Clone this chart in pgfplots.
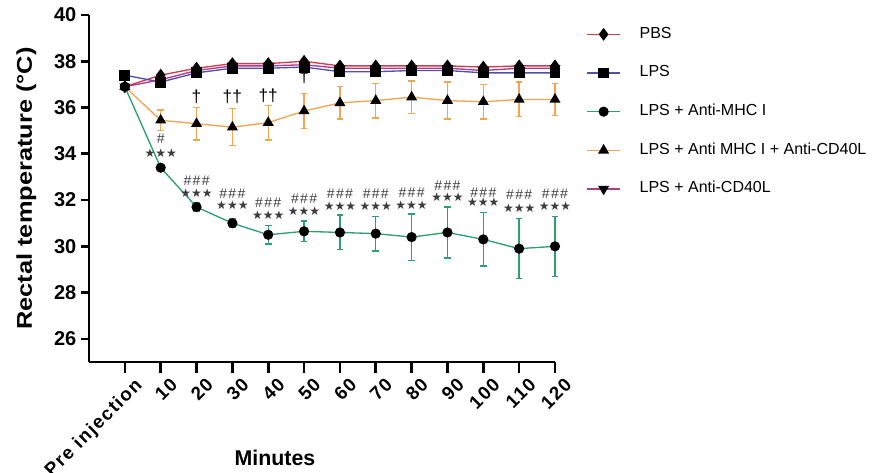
\documentclass[border=0pt]{standalone}
\usepackage{pgfplots}
\pgfplotsset{compat=1.18}
\usepackage{fontspec}
\setmainfont{Liberation Sans}
\newfontfamily\dejavu{DejaVu Sans}
\newfontfamily\spacedbold[LetterSpace=8]{Liberation Sans Bold}
\definecolor{pbsred}{RGB}{205,60,80}
\definecolor{lpsblue}{RGB}{80,80,170}
\definecolor{mhcgreen}{RGB}{45,160,110}
\definecolor{dorange}{RGB}{240,165,80}
\definecolor{cdmag}{RGB}{170,60,140}
\definecolor{anngray}{RGB}{60,60,60}
\newcommand{\stars}{{\dejavu\fontsize{9}{9}\selectfont ★★★}}
\newcommand{\hashes}{{\fontsize{10.5}{10.5}\selectfont \#\kern1pt\#\kern1pt\#}}
\newcommand{\mydag}{{\fontsize{13}{13}\selectfont †}}
\begin{document}
\begin{tikzpicture}
\begin{axis}[
  at={(0,0)}, anchor=south west,
  width=349.5pt, height=260.25pt, scale only axis,
  xmin=-1, xmax=12, ymin=25, ymax=40,
  axis x line*=bottom, axis y line*=left,
  axis line style={line width=2pt, -},
  every tick/.style={line width=2pt, black},
  tick align=outside,
  major tick length=6pt,
  xtick={0,...,12},
  xticklabels={Pre injection,10,20,30,40,50,60,70,80,90,100,110,120},
  x tick label style={rotate=45, anchor=north east, font=\spacedbold\fontsize{14}{14}\selectfont, inner sep=1pt, yshift=-7pt, xshift=2pt},
  ytick={26,28,...,40},
  y tick label style={font=\bfseries\fontsize{15}{15}\selectfont, /pgf/number format/assume math mode=true},
  xtick style={/pgfplots/major tick length=8pt},
  xlabel={Minutes},
  ylabel={\scalebox{1.19}[1]{Rectal temperature (°C)}},
  every axis x label/.style={at={(axis description cs:0.399,0)}, yshift=-72pt, anchor=center, font=\bfseries\fontsize{16}{16}\selectfont},
  every axis y label/.style={at={(axis description cs:0,0.5)}, xshift=-47pt, rotate=90, anchor=center, font=\bfseries\fontsize{16}{16}\selectfont},
  legend style={at={(axis description cs:1.058,0.972)}, anchor=north west, draw=none, fill=none,
    font=\fontsize{12}{12}\selectfont, row sep=19pt,
    nodes={text height=8pt, text depth=2pt, inner sep=0pt},
    /tikz/every odd column/.style={column sep=14pt}},
  legend cell align=left,
  legend image code/.code={\draw[mark repeat=2,mark phase=2] plot coordinates {(0pt,0pt) (12.5pt,0pt) (25pt,0pt)};},
  clip=false,
]
\addplot[pbsred, line width=1pt, mark=diamond*, mark size=4pt, mark options={fill=black, draw=black}]
  coordinates {(0,36.9)(1,37.4)(2,37.7)(3,37.9)(4,37.9)(5,38.0)(6,37.8)(7,37.8)(8,37.8)(9,37.8)(10,37.75)(11,37.8)(12,37.8)};
\addlegendentry{PBS}
\addplot[lpsblue, line width=1pt, mark=square*, mark size=3.6pt, mark options={fill=black, draw=black}]
  coordinates {(0,37.4)(1,37.1)(2,37.5)(3,37.7)(4,37.7)(5,37.75)(6,37.55)(7,37.55)(8,37.6)(9,37.6)(10,37.5)(11,37.5)(12,37.5)};
\addlegendentry{LPS}
\addplot[mhcgreen, line width=1pt, mark=*, mark size=3.3pt, mark options={fill=black, draw=black},
  error bars/.cd, y dir=both, y explicit,
  error bar style={line width=1pt, mhcgreen},
  error mark options={rotate=90, mark size=2.5pt, line width=1pt, mhcgreen}]
  coordinates {(0,36.9)+-(0,0.05) (1,33.4)+-(0,0.1) (2,31.7)+-(0,0.2) (3,31.0)+-(0,0.2) (4,30.5)+-(0,0.4) (5,30.65)+-(0,0.45) (6,30.6)+-(0,0.75) (7,30.55)+-(0,0.75) (8,30.4)+-(0,1.0) (9,30.6)+-(0,1.1) (10,30.3)+-(0,1.15) (11,29.9)+-(0,1.3) (12,30.0)+-(0,1.3)};
\addlegendentry{LPS + Anti-MHC I}
\addplot[dorange, line width=1pt, mark=triangle*, mark size=3.8pt, mark options={fill=black, draw=black},
  error bars/.cd, y dir=both, y explicit,
  error bar style={line width=1pt, dorange},
  error mark options={rotate=90, mark size=2.5pt, line width=1pt, dorange}]
  coordinates {(0,36.9)+-(0,0.05) (1,35.45)+-(0,0.45) (2,35.3)+-(0,0.7) (3,35.15)+-(0,0.8) (4,35.35)+-(0,0.75) (5,35.85)+-(0,0.75) (6,36.2)+-(0,0.7) (7,36.3)+-(0,0.75) (8,36.45)+-(0,0.7) (9,36.3)+-(0,0.8) (10,36.25)+-(0,0.75) (11,36.35)+-(0,0.75) (12,36.35)+-(0,0.7)};
\addlegendentry{LPS + Anti MHC I + Anti-CD40L}
\addplot[cdmag, line width=1pt, mark=triangle*, mark size=3.8pt, mark options={fill=black, draw=black, rotate=180}]
  coordinates {(0,36.9)(1,37.2)(2,37.6)(3,37.8)(4,37.8)(5,37.85)(6,37.7)(7,37.7)(8,37.7)(9,37.7)(10,37.6)(11,37.7)(12,37.7)};
\addlegendentry{LPS + Anti-CD40L}
% significance annotations
\begin{scope}[every node/.style={text=anngray, inner sep=0pt}]
\node at (axis cs:1,34.67) {{\fontsize{10.5}{10.5}\selectfont\#}};
\node at (axis cs:1,34.02) {\stars};
\node at (axis cs:2,32.85) {\hashes}; \node at (axis cs:2,32.28) {\stars};
\node at (axis cs:3,32.28) {\hashes}; \node at (axis cs:3,31.76) {\stars};
\node at (axis cs:4,31.89) {\hashes}; \node at (axis cs:4,31.33) {\stars};
\node at (axis cs:5,32.07) {\hashes}; \node at (axis cs:5,31.50) {\stars};
\node at (axis cs:6,32.28) {\hashes}; \node at (axis cs:6,31.72) {\stars};
\node at (axis cs:7,32.28) {\hashes}; \node at (axis cs:7,31.72) {\stars};
\node at (axis cs:8,32.33) {\hashes}; \node at (axis cs:8,31.80) {\stars};
\node at (axis cs:9,32.63) {\hashes}; \node at (axis cs:9,32.11) {\stars};
\node at (axis cs:10,32.33) {\hashes}; \node at (axis cs:10,31.89) {\stars};
\node at (axis cs:11,32.24) {\hashes}; \node at (axis cs:11,31.63) {\stars};
\node at (axis cs:12,32.28) {\hashes}; \node at (axis cs:12,31.72) {\stars};
\node[text=black] at (axis cs:2,36.45) {\mydag};
\node[text=black] at (axis cs:3,36.45) {\mydag\mydag};
\node[text=black] at (axis cs:4,36.5) {\mydag\mydag};
\node[text=black] at (axis cs:5,37.35) {\mydag};
\end{scope}
\end{axis}
\pgfresetboundingbox
\useasboundingbox (-66.75pt,-82.5pt) rectangle (592.5pt,271.5pt);
\end{tikzpicture}
\end{document}
